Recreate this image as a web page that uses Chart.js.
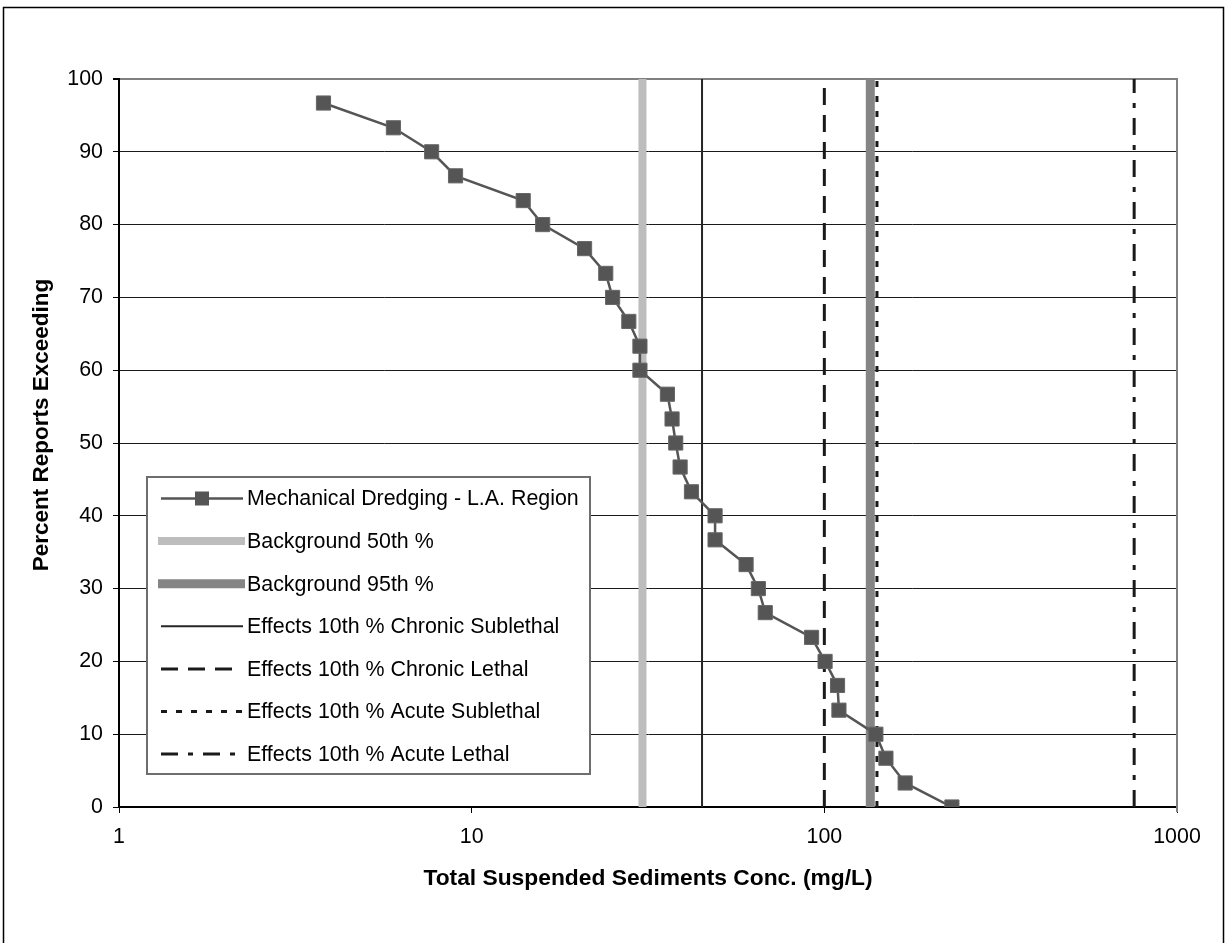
<!DOCTYPE html>
<html>
<head>
<meta charset="utf-8">
<script src="https://cdn.jsdelivr.net/npm/chart.js@4.4.1/dist/chart.umd.min.js"></script>
<style>
  body { margin: 0; background: #fff; }
  #wrap { width: 1225px; height: 943px; }
</style>
</head>
<body>
<div id="wrap"><canvas id="tssChart" width="1225" height="943"></canvas></div>
<script>
// Messreihe: TSS-Konzentration (mg/L) und Prozent der Berichte, die den Wert überschreiten
const seriesName = 'Mechanical Dredging - L.A. Region';
const tssConc = [3.8, 6.0, 7.7, 9.0, 14.0, 15.9, 20.9, 24.0, 25.1, 27.9,
                 30.0, 30.0, 35.9, 37.0, 37.9, 39.0, 42.0, 49.0, 49.0, 60.0,
                 65.0, 68.0, 92.0, 100.5, 109, 110, 140, 149.5, 169.5, 230];
const pctExceeding = [96.7, 93.3, 90, 86.7, 83.3, 80, 76.7, 73.3, 70, 66.7,
                      63.3, 60, 56.7, 53.3, 50, 46.7, 43.3, 40, 36.7, 33.3,
                      30, 26.7, 23.3, 20, 16.7, 13.3, 10, 6.7, 3.3, 0];

// Schwellenwerte als senkrechte Linien
const thresholdNames = ['Background 50th %', 'Background 95th %',
  'Effects 10th % Chronic Sublethal', 'Effects 10th % Chronic Lethal',
  'Effects 10th % Acute Sublethal', 'Effects 10th % Acute Lethal'];
const thresholdValues = [30.5, 135, 45, 100, 141, 756];

// Achsen
const xTickValues = [1, 10, 100, 1000];
const yMin = 0, yMax = 100, yStep = 10;
const xTitle = 'Total Suspended Sediments Conc. (mg/L)';
const yTitle = 'Percent Reports Exceeding';

// Linienstile der Schwellenwerte (gleiche Reihenfolge wie oben)
const thresholdStyles = [
  {color: '#bdbdbd', width: 8, dash: []},
  {color: '#858585', width: 9, dash: []},
  {color: '#262626', width: 2, dash: []},
  {color: '#1a1a1a', width: 3, dash: [17, 10]},
  {color: '#1a1a1a', width: 3, dash: [6, 9]},
  {color: '#1a1a1a', width: 3, dash: [17, 10, 5, 10]}
];

const FONT = '"Liberation Sans", Arial, Helvetica, sans-serif';
Chart.defaults.font.family = FONT;
Chart.defaults.color = '#000';

const datasets = [{
  label: seriesName,
  data: tssConc.map((x, i) => ({x: x, y: pctExceeding[i]})),
  showLine: true,
  borderColor: '#555555',
  borderWidth: 2.5,
  backgroundColor: '#555555',
  pointStyle: 'rect',
  pointRadius: 10,
  pointBorderWidth: 1,
  pointBorderColor: '#666666',
  pointBackgroundColor: '#555555',
  tension: 0
}];

thresholdValues.forEach((v, i) => {
  const st = thresholdStyles[i];
  datasets.push({
    label: thresholdNames[i],
    data: [{x: v, y: yMin}, {x: v, y: yMax}],
    showLine: true,
    borderColor: st.color,
    borderWidth: st.width,
    borderDash: st.dash,
    borderCapStyle: 'butt',
    pointRadius: 0,
    pointHoverRadius: 0
  });
});

// Rahmen, Plotrand rechts, y-Titel und eigene Legende
const framePlugin = {
  id: 'framePlugin',
  beforeDraw(chart) {
    const c = chart.ctx;
    c.save();
    c.fillStyle = '#fff';
    c.fillRect(0, 0, chart.width, chart.height);
    c.strokeStyle = '#000';
    c.lineWidth = 1.5;
    c.strokeRect(3.5, 7.5, 1220, 950);
    c.restore();
  },
  beforeDatasetsDraw(chart) {
    const a = chart.chartArea;
    const c = chart.ctx;
    c.save();
    c.strokeStyle = '#808080';
    c.lineWidth = 2;
    c.beginPath();
    c.moveTo(a.right, a.top - 1);
    c.lineTo(a.right, a.bottom + 5);
    c.stroke();
    // y-Achsentitel (im Original leicht über der Mitte)
    c.translate(42, 425);
    c.rotate(-Math.PI / 2);
    c.fillStyle = '#000';
    c.font = 'bold 22.5px ' + FONT;
    c.textAlign = 'center';
    c.textBaseline = 'middle';
    c.fillText(yTitle, 0, 0);
    c.restore();
  },
  afterDatasetsDraw(chart) {
    const c = chart.ctx;
    const box = {x: 147, y: 477, w: 443, h: 297};
    c.save();
    c.fillStyle = '#fff';
    c.fillRect(box.x, box.y, box.w, box.h);
    c.strokeStyle = '#6e6e6e';
    c.lineWidth = 2;
    c.strokeRect(box.x, box.y, box.w, box.h);

    const rowY0 = 498.5, rowStep = 42.6;
    chart.data.datasets.forEach((ds, i) => {
      const y = rowY0 + i * rowStep;
      const wide = ds.borderWidth >= 8;
      const dash = ds.borderDash || [];
      let x1 = wide ? 158 : 161, x2 = wide ? 245 : 243;
      if (dash.length === 2 && dash[0] > 10) x2 = 237;
      c.save();
      c.strokeStyle = ds.borderColor;
      c.lineWidth = ds.borderWidth;
      c.setLineDash(dash);
      c.lineCap = 'butt';
      c.beginPath();
      c.moveTo(x1, y);
      c.lineTo(x2, y);
      c.stroke();
      if (i === 0) {
        c.fillStyle = ds.pointBackgroundColor;
        c.fillRect(195, y - 7, 14, 14);
      }
      c.restore();
      c.fillStyle = '#000';
      c.font = '21.4px ' + FONT;
      c.textBaseline = 'middle';
      c.textAlign = 'left';
      c.fillText(ds.label, 247, y + 1);
    });
    c.restore();
  }
};

new Chart(document.getElementById('tssChart'), {
  type: 'scatter',
  data: {datasets: datasets},
  plugins: [framePlugin],
  options: {
    responsive: false,
    animation: false,
    devicePixelRatio: 1,
    layout: {padding: {top: 79, right: 48, bottom: 0, left: 0}},
    plugins: {
      legend: {display: false},
      tooltip: {enabled: false}
    },
    scales: {
      x: {
        type: 'logarithmic',
        min: 1,
        max: 1000,
        afterBuildTicks: (scale) => {
          scale.ticks = xTickValues.map(v => ({value: v}));
        },
        afterFit: (scale) => { scale.height = 136; },
        ticks: {
          font: {size: 21.4},
          color: '#000',
          padding: 11,
          maxRotation: 0,
          callback: (v) => String(v)
        },
        grid: {
          drawOnChartArea: false,
          tickLength: 6,
          tickColor: '#000'
        },
        border: {color: '#000', width: 2},
        title: {
          display: true,
          text: xTitle,
          font: {size: 22.8, weight: 'bold'},
          color: '#000',
          padding: {top: 0, bottom: 51}
        }
      },
      y: {
        min: yMin,
        max: yMax,
        afterFit: (scale) => { scale.width = 119; },
        ticks: {
          stepSize: yStep,
          font: {size: 21.4},
          color: '#000',
          padding: 10
        },
        grid: {
          color: (ctx) => ctx.tick && ctx.tick.value === yMax ? '#808080' : '#1a1a1a',
          lineWidth: (ctx) => ctx.tick && ctx.tick.value === yMax ? 2 : 1,
          tickLength: 6,
          tickColor: '#000'
        },
        border: {color: '#000', width: 2},
        title: {display: false}
      }
    }
  }
});
</script>
</body>
</html>
